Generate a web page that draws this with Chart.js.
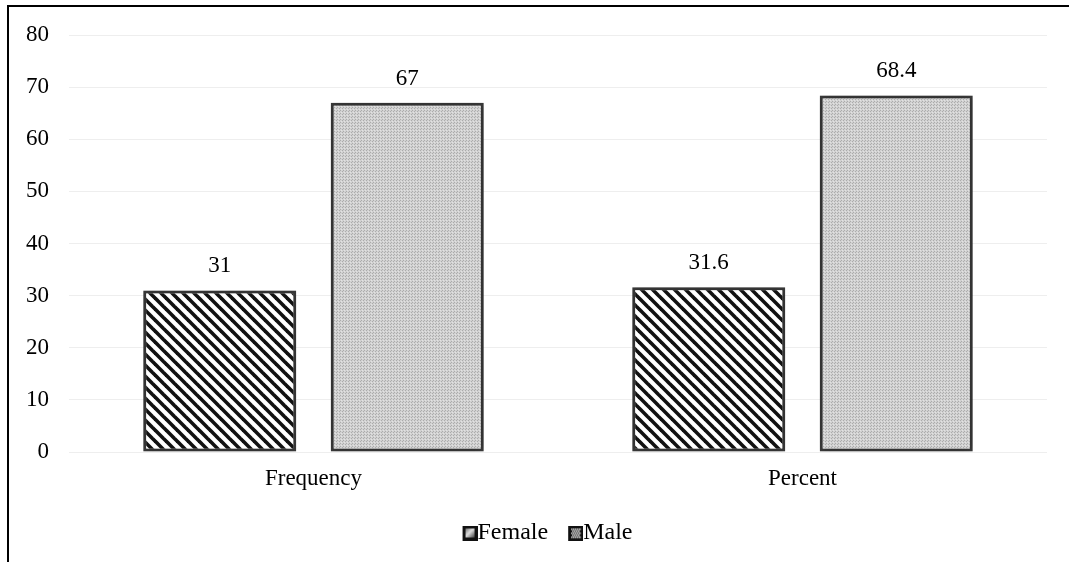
<!DOCTYPE html>
<html>
<head>
<meta charset="utf-8">
<title>Gender distribution</title>
<script src="https://cdn.jsdelivr.net/npm/chart.js@4.4.1/dist/chart.umd.min.js"></script>
<style>
  html, body { margin: 0; padding: 0; background: #fff; }
  #wrap { position: relative; width: 1069px; height: 562px; overflow: hidden; }
  #frame {
    position: absolute; left: 7px; top: 5px; width: 1070px; height: 570px;
    border-left: 2px solid #000; border-top: 2px solid #000; box-sizing: border-box;
  }
  canvas { position: absolute; left: 0; top: 0; }
</style>
</head>
<body>
<div id="wrap">
  <div id="frame"></div>
  <canvas id="chart" width="1069" height="562"></canvas>
</div>
<script>
// Categories, series and axis ticks
const categories = ['Frequency', 'Percent'];
const femaleValues = [31, 31.6];
const maleValues = [67, 68.4];
const seriesNames = ['Female', 'Male'];
const yTicks = [0, 10, 20, 30, 40, 50, 60, 70, 80];

const FONT = '"Liberation Serif", "Times New Roman", serif';

// Diagonal hatch (top-left to bottom-right) for the Female bars
function hatchPattern() {
  const s = 11;
  const c = document.createElement('canvas');
  c.width = s; c.height = s;
  const g = c.getContext('2d');
  g.fillStyle = '#ffffff';
  g.fillRect(0, 0, s, s);
  g.strokeStyle = '#111111';
  g.lineWidth = 3.6;
  g.lineCap = 'square';
  for (const off of [-s, 0, s]) {
    g.beginPath();
    g.moveTo(off - 2, -2);
    g.lineTo(off + s + 2, s + 2);
    g.stroke();
  }
  return g.createPattern(c, 'repeat');
}

// Fine light-grey dot screen for the Male bars
function dotPattern() {
  const c = document.createElement('canvas');
  c.width = 3; c.height = 3;
  const g = c.getContext('2d');
  g.fillStyle = '#d2d2d2';
  g.fillRect(0, 0, 3, 3);
  g.fillStyle = '#acacac';
  g.fillRect(0, 0, 1, 1);
  g.fillRect(1, 2, 1, 1);
  g.fillStyle = '#e2e2e2';
  g.fillRect(2, 1, 1, 1);
  return g.createPattern(c, 'repeat');
}

// Legend icons: a swatch placed on the right half of a wider canvas,
// so that it sits flush against the legend text
const ICON = 15;
function iconCanvas(paint) {
  const c = document.createElement('canvas');
  c.width = ICON * 2; c.height = ICON;
  const g = c.getContext('2d');
  g.translate(ICON, 0);
  paint(g);
  return c;
}
function femaleIcon() {
  return iconCanvas(g => {
    g.fillStyle = '#111';
    g.fillRect(0, 0, ICON, ICON);
    const gr = g.createLinearGradient(2, 2, ICON - 2, ICON - 2);
    gr.addColorStop(0, '#555');
    gr.addColorStop(0.45, '#e0e0e0');
    gr.addColorStop(1, '#222');
    g.fillStyle = gr;
    g.fillRect(3, 3, ICON - 6, ICON - 6);
  });
}
function maleIcon() {
  return iconCanvas(g => {
    g.fillStyle = '#111';
    g.fillRect(0, 0, ICON, ICON);
    g.fillStyle = '#eeeeee';
    for (let y = 3; y < ICON - 3; y += 2) {
      for (let x = 3 + ((y - 3) / 2) % 2; x < ICON - 3; x += 2) g.fillRect(x, y, 1.5, 1.5);
    }
  });
}
const legendIcons = [femaleIcon(), maleIcon()];

// Value labels above each bar
const valueLabels = {
  id: 'valueLabels',
  afterDatasetsDraw(chart) {
    const ctx = chart.ctx;
    ctx.save();
    ctx.font = '23px ' + FONT;
    ctx.fillStyle = '#000';
    ctx.textAlign = 'center';
    ctx.textBaseline = 'alphabetic';
    chart.data.datasets.forEach((ds, i) => {
      chart.getDatasetMeta(i).data.forEach((bar, j) => {
        ctx.fillText(String(ds.data[j]), bar.x, bar.y - 18);
      });
    });
    ctx.restore();
  }
};

// Soft grey halo behind the bars
const barHalo = {
  id: 'barHalo',
  beforeDatasetsDraw(chart) {
    const ctx = chart.ctx;
    ctx.save();
    ctx.shadowColor = 'rgba(0,0,0,0.32)';
    ctx.shadowBlur = 9;
    ctx.shadowOffsetX = 0;
    ctx.shadowOffsetY = 0;
  },
  afterDatasetsDraw(chart) {
    chart.ctx.restore();
  }
};

// Centre the legend under the plot area rather than under the whole canvas
const legendShift = {
  id: 'legendShift',
  afterLayout(chart) {
    if (chart.legend) chart.legend.left = 45;
  }
};

const ctx = document.getElementById('chart').getContext('2d');
new Chart(ctx, {
  type: 'bar',
  data: {
    labels: categories,
    datasets: [
      {
        label: seriesNames[0],
        data: femaleValues,
        backgroundColor: hatchPattern(),
        borderColor: '#3a3a3a',
        borderWidth: 3,
        borderSkipped: false
      },
      {
        label: seriesNames[1],
        data: maleValues,
        backgroundColor: dotPattern(),
        borderColor: '#3a3a3a',
        borderWidth: 3,
        borderSkipped: false
      }
    ]
  },
  options: {
    responsive: false,
    animation: false,
    devicePixelRatio: 1,
    layout: { padding: { left: 0, right: 22, top: 35, bottom: 7 } },
    datasets: {
      bar: { categoryPercentage: 0.767, barPercentage: 0.816 }
    },
    font: { family: FONT, size: 23 },
    color: '#000',
    plugins: {
      tooltip: { enabled: false },
      legend: {
        position: 'bottom',
        labels: {
          font: { family: FONT, size: 24 },
          color: '#000',
          usePointStyle: true,
          boxWidth: 6,
          boxHeight: 15,
          padding: 17,
          generateLabels(chart) {
            return chart.data.datasets.map((ds, i) => ({
              text: ds.label,
              pointStyle: legendIcons[i],
              fillStyle: '#111',
              strokeStyle: '#111',
              lineWidth: 0,
              hidden: false,
              datasetIndex: i
            }));
          }
        }
      }
    },
    scales: {
      x: {
        grid: { display: false, drawTicks: false },
        border: { display: false },
        ticks: { font: { family: FONT, size: 23 }, color: '#000', padding: 13 },
        afterFit(scale) { scale.height = 52; }
      },
      y: {
        min: 0,
        max: 80,
        afterBuildTicks(scale) { scale.ticks = yTicks.map(v => ({ value: v })); },
        grid: { color: '#eeeeee', lineWidth: 1, drawTicks: false },
        border: { display: false },
        ticks: { font: { family: FONT, size: 23 }, color: '#000', padding: 20 },
        afterFit(scale) { scale.width = 69; }
      }
    }
  },
  plugins: [barHalo, valueLabels, legendShift]
});
</script>
</body>
</html>
